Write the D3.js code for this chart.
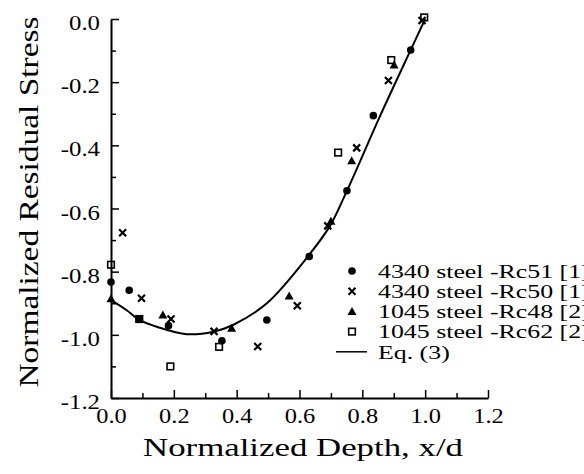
<!DOCTYPE html>
<html>
<head>
<meta charset="utf-8">
<script src="https://cdn.jsdelivr.net/npm/d3@7"></script>
<style>
  body { margin: 0; background: #fff; }
  svg text { font-family: "Liberation Serif", "Times New Roman", Times, "DejaVu Serif", serif !important; fill: #000; }
  .domain { stroke: #000; stroke-width: 2; }
  .tick line { stroke: #000; stroke-width: 1.5; }
</style>
</head>
<body>
<div id="viz"></div>
<script>
// values
xTicks = [0.0, 0.2, 0.4, 0.6, 0.8, 1.0, 1.2];
yTicks = [0.0, -0.2, -0.4, -0.6, -0.8, -1.0, -1.2];
minorX = [0.1, 0.3, 0.5, 0.7, 0.9, 1.1];
minorY = [-0.1, -0.3, -0.5, -0.7, -0.9, -1.1];

// 4340 steel -Rc51 [1]
rc51X = [0.0, 0.058, 0.09, 0.183, 0.353, 0.496, 0.631, 0.751, 0.835, 0.954];
rc51Y = [-0.833, -0.859, -0.95, -0.971, -1.019, -0.953, -0.752, -0.544, -0.306, -0.098];
// 4340 steel -Rc50 [1]
rc50X = [0.037, 0.097, 0.191, 0.328, 0.467, 0.593, 0.69, 0.782, 0.883, 0.99];
rc50Y = [-0.677, -0.884, -0.95, -0.989, -1.037, -0.908, -0.655, -0.408, -0.195, -0.005];
// 1045 steel -Rc48 [2]
rc48X = [0.0, 0.165, 0.384, 0.567, 0.70, 0.766, 0.901];
rc48Y = [-0.886, -0.937, -0.979, -0.877, -0.64, -0.449, -0.146];
// 1045 steel -Rc62 [2]
rc62X = [0.0, 0.09, 0.189, 0.344, 0.723, 0.892, 0.997];
rc62Y = [-0.778, -0.95, -1.1, -1.038, -0.423, -0.13, 0.005];
// Eq. (3)
eqX = [0, 0.05, 0.089, 0.15, 0.241, 0.326, 0.39, 0.496, 0.628, 0.697, 0.751, 0.857, 0.954, 1.0];
eqY = [-0.89, -0.922, -0.952, -0.976, -0.998, -0.99, -0.968, -0.9, -0.75, -0.655, -0.544, -0.306, -0.098, 0.0];

seriesNames = ['4340 steel -Rc51 [1]', '4340 steel -Rc50 [1]', '1045 steel -Rc48 [2]', '1045 steel -Rc62 [2]', 'Eq. (3)'];
symbols = ['circle', 'cross', 'triangle', 'square', 'line'];

width = 584;
height = 474;
serif = '"Liberation Serif", "Times New Roman", Times, "DejaVu Serif", serif';

xScale = d3.scaleLinear().domain([0, 1.2]).range([111, 488]);
yScale = d3.scaleLinear().domain([-1.2, 0]).range([398, 19]);

svg = d3.select('#viz').append('svg')
  .attr('width', width)
  .attr('height', height)
  .attr('font-family', serif);

// stretch text horizontally to match the scan
function stretch(sel, k) {
  sel.each(function() {
    var w = this.getComputedTextLength();
    d3.select(this).attr('textLength', w * k).attr('lengthAdjust', 'spacingAndGlyphs');
  });
}

// axes, ticks inside
xAxis = svg.append('g')
  .attr('transform', 'translate(0,' + yScale(-1.2) + ')')
  .call(d3.axisBottom(xScale).tickValues(xTicks).tickSizeInner(-8).tickSizeOuter(0).tickPadding(11)
    .tickFormat(d3.format('.1f')));
xAxis.attr('font-family', serif);
xAxis.selectAll('text').attr('font-size', 20).attr('dy', '0.71em');
stretch(xAxis.selectAll('text'), 1.22);

svg.append('g')
  .attr('transform', 'translate(0,' + yScale(-1.2) + ')')
  .call(d3.axisBottom(xScale).tickValues(minorX).tickSize(-5).tickFormat(''))
  .select('.domain').remove();

yAxis = svg.append('g')
  .attr('transform', 'translate(' + xScale(0) + ',0)')
  .call(d3.axisLeft(yScale).tickValues(yTicks).tickSizeInner(-8).tickSizeOuter(0).tickPadding(11)
    .tickFormat(d3.format('.1f')));
yAxis.attr('font-family', serif);
yAxis.selectAll('text').attr('font-size', 21).attr('dy', '0.5em')
  .text(function(d) { return d3.format('.1f')(d).replace('−', '-'); });
stretch(yAxis.selectAll('text'), 1.18);

svg.append('g')
  .attr('transform', 'translate(' + xScale(0) + ',0)')
  .call(d3.axisLeft(yScale).tickValues(minorY).tickSize(-5).tickFormat(''))
  .select('.domain').remove();

// axis titles
svg.append('text')
  .attr('x', 303)
  .attr('y', 456)
  .attr('text-anchor', 'middle')
  .attr('font-size', 26)
  .attr('textLength', 320)
  .attr('lengthAdjust', 'spacingAndGlyphs')
  .text('Normalized Depth, x/d');

svg.append('text')
  .attr('transform', 'translate(38,202) rotate(-90)')
  .attr('text-anchor', 'middle')
  .attr('font-size', 28)
  .attr('textLength', 371)
  .attr('lengthAdjust', 'spacingAndGlyphs')
  .text('Normalized Residual Stress');

// the fitted curve
line = d3.line()
  .x(function(d) { return xScale(d[0]); })
  .y(function(d) { return yScale(d[1]); })
  .curve(d3.curveCatmullRom);

svg.append('path')
  .datum(d3.zip(eqX, eqY))
  .attr('d', line)
  .attr('fill', 'none')
  .attr('stroke', '#000')
  .attr('stroke-width', 2);

// markers
function drawMarker(g, type) {
  if (type == 'circle') {
    g.append('circle').attr('r', 3.8).attr('fill', '#000');
  } else if (type == 'cross') {
    g.append('path').attr('d', 'M-3.5,-3.5L3.5,3.5M-3.5,3.5L3.5,-3.5')
      .attr('stroke', '#000').attr('stroke-width', 2.2);
  } else if (type == 'triangle') {
    g.append('path').attr('d', 'M0,-4.5L4.5,3.5L-4.5,3.5Z').attr('fill', '#000');
  } else if (type == 'square') {
    g.append('rect').attr('x', -3.3).attr('y', -3.3).attr('width', 6.6).attr('height', 6.6)
      .attr('fill', 'none').attr('stroke', '#000').attr('stroke-width', 1.6);
  } else if (type == 'line') {
    g.append('line').attr('x1', -16).attr('x2', 15).attr('stroke', '#000').attr('stroke-width', 1.5);
  }
}

pointSets = [
  [rc51X, rc51Y],
  [rc50X, rc50Y],
  [rc48X, rc48Y],
  [rc62X, rc62Y]
];

pointSets.forEach(function(s, i) {
  svg.append('g').selectAll('g')
    .data(d3.zip(s[0], s[1]))
    .enter()
    .append('g')
    .attr('transform', function(d) { return 'translate(' + xScale(d[0]) + ',' + yScale(d[1]) + ')'; })
    .each(function() { drawMarker(d3.select(this), symbols[i]); });
});

// legend
legend = svg.selectAll('g.legend')
  .data(seriesNames)
  .enter()
  .append('g')
  .attr('class', 'legend')
  .attr('transform', function(d, i) { return 'translate(352,' + (271 + i * 20.2) + ')'; });

legend.each(function(d, i) { drawMarker(d3.select(this), symbols[i]); });

legendText = legend.append('text')
  .attr('x', 26)
  .attr('dy', '0.36em')
  .attr('font-size', 19)
  .text(function(d) { return d; });
stretch(legendText, 1.36);
</script>
</body>
</html>
